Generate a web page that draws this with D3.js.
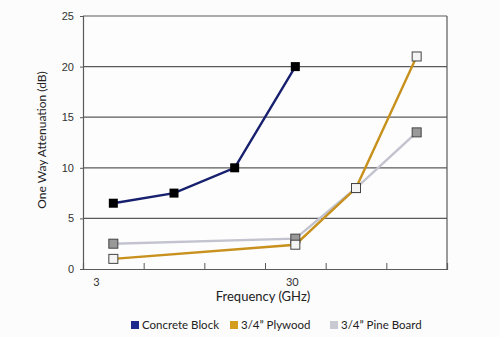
<!DOCTYPE html>
<html>
<head>
<meta charset="utf-8">
<script src="https://cdn.jsdelivr.net/npm/d3@7/dist/d3.min.js"></script>
<style>
  html, body { margin: 0; padding: 0; background: #fcfcfc; }
  svg { display: block; }
</style>
</head>
<body>
<script>
// Frequency bins (category index along the x axis)
const categories = [0, 1, 2, 3, 4, 5];
const xTickLabels = [{ label: "3", pos: -0.28 }, { label: "30", pos: 2.95 }];
const yTicks = [0, 5, 10, 15, 20, 25];

const seriesNames = ["Concrete Block", "3/4\u201d Plywood", "3/4\u201d Pine Board"];
const concreteX = [0, 1, 2, 3];
const concreteY = [6.5, 7.5, 10, 20];
const plywoodX = [0, 3, 4, 5];
const plywoodY = [1, 2.4, 8, 21];
const pineX = [0, 3, 4, 5];
const pineY = [2.5, 3, 8, 13.5];

const W = 500, H = 337;
const m = { left: 83, right: 53, top: 16, bottom: 68 };

const svg = d3.select("body").append("svg").attr("width", W).attr("height", H);

const x = d3.scaleLinear().domain([-0.5, 5.5]).range([m.left, W - m.right]);
const y = d3.scaleLinear().domain([0, 25]).range([H - m.bottom, m.top]);

const plot = svg.append("g");

// plot background
plot.append("rect")
  .attr("x", x(-0.5)).attr("y", y(25))
  .attr("width", x(5.5) - x(-0.5)).attr("height", y(0) - y(25))
  .attr("fill", "#fdfdfd");

// horizontal gridlines
plot.selectAll("line.grid").data(yTicks.filter(d => d > 0)).join("line")
  .attr("class", "grid")
  .attr("x1", x(-0.5)).attr("x2", x(5.5))
  .attr("y1", d => y(d)).attr("y2", d => y(d))
  .attr("stroke", "#5a5a5a").attr("stroke-width", 1.2);

// right border
plot.append("line")
  .attr("x1", x(5.5)).attr("x2", x(5.5)).attr("y1", y(25)).attr("y2", y(0))
  .attr("stroke", "#5a5a5a").attr("stroke-width", 1.2);

// y axis
const yAxis = svg.append("g")
  .attr("transform", `translate(${x(-0.5)},0)`)
  .call(d3.axisLeft(y).tickValues(yTicks).tickSize(3).tickPadding(6));
yAxis.select(".domain").attr("stroke", "#5a5a5a").attr("stroke-width", 1.2);
yAxis.selectAll(".tick line").attr("stroke", "#5a5a5a");
yAxis.selectAll("text")
  .attr("font-family", "Liberation Sans, Arial, sans-serif")
  .attr("font-size", 11).attr("fill", "#333");

// x axis: boundaries between frequency bins, ticks pointing inward
const xAxis = svg.append("g")
  .attr("transform", `translate(0,${y(0)})`)
  .call(d3.axisBottom(x).tickValues([0.5, 1.5, 2.5, 3.5, 4.5]).tickSize(-6).tickFormat(""));
xAxis.select(".domain").attr("stroke", "#5a5a5a").attr("stroke-width", 1.2);
xAxis.selectAll(".tick line").attr("stroke", "#5a5a5a");

svg.selectAll("text.xlab").data(xTickLabels).join("text")
  .attr("class", "xlab")
  .attr("x", d => x(d.pos)).attr("y", y(0) + 17)
  .attr("text-anchor", "middle")
  .attr("font-family", "Lato, sans-serif").attr("font-size", 11).attr("fill", "#333")
  .text(d => d.label);

// axis titles
svg.append("text")
  .attr("x", 263).attr("y", 301)
  .attr("text-anchor", "middle")
  .attr("font-family", "Lato, sans-serif").attr("font-size", 13).attr("fill", "#222")
  .text("Frequency (GHz)");

svg.append("text")
  .attr("transform", "translate(46,140) rotate(-90)")
  .attr("text-anchor", "middle")
  .attr("font-family", "Lato, sans-serif").attr("font-size", 12).attr("fill", "#222")
  .text("One Way Attenuation (dB)");

// series
const series = [
  { name: seriesNames[2], xs: pineX, ys: pineY, line: "#c3c3cf", fill: "#999999", stroke: "#444" },
  { name: seriesNames[1], xs: plywoodX, ys: plywoodY, line: "#c8901c", fill: "#f4f4f4", stroke: "#444" },
  { name: seriesNames[0], xs: concreteX, ys: concreteY, line: "#17206e", fill: "#000000", stroke: "#000" }
];

const lineGen = d3.line().x(d => x(d[0])).y(d => y(d[1]));

series.forEach(s => {
  const pts = s.xs.map((v, i) => [v, s.ys[i]]);
  plot.append("path")
    .datum(pts)
    .attr("d", lineGen)
    .attr("fill", "none")
    .attr("stroke", s.line)
    .attr("stroke-width", 2.4);
});

const mk = 9;
series.forEach(s => {
  const pts = s.xs.map((v, i) => [v, s.ys[i]]);
  plot.selectAll(null).data(pts).join("rect")
    .attr("x", d => x(d[0]) - mk / 2).attr("y", d => y(d[1]) - mk / 2)
    .attr("width", mk).attr("height", mk)
    .attr("fill", s.fill)
    .attr("stroke", s.stroke)
    .attr("stroke-width", s.fill === "#000000" ? 0 : 1);
});

// legend
const legendItems = [
  { name: seriesNames[0], color: "#1c2a8c", x: 131 },
  { name: seriesNames[1], color: "#d39e1e", x: 230 },
  { name: seriesNames[2], color: "#c9c9d2", x: 330 }
];
const lg = svg.append("g");
lg.selectAll("rect").data(legendItems).join("rect")
  .attr("x", d => d.x).attr("y", 321)
  .attr("width", 8).attr("height", 8)
  .attr("fill", d => d.color);
lg.selectAll("text").data(legendItems).join("text")
  .attr("x", d => d.x + 11).attr("y", 329)
  .attr("font-family", "Lato, sans-serif").attr("font-size", 11.5).attr("fill", "#222")
  .text(d => d.name);
</script>
</body>
</html>
